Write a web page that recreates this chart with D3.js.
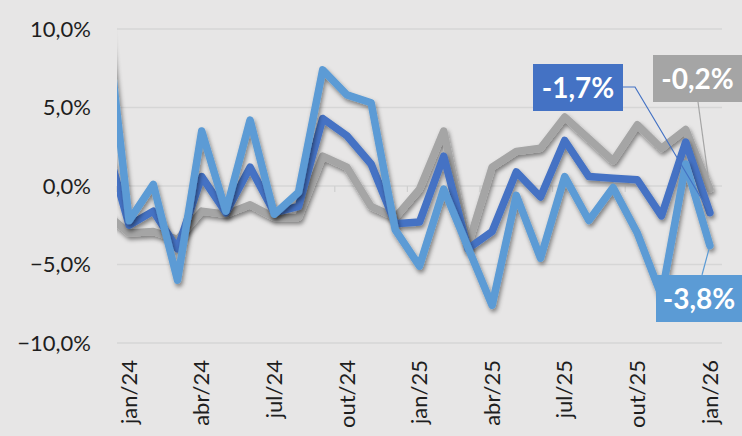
<!DOCTYPE html>
<html>
<head>
<meta charset="utf-8">
<script src="https://cdn.jsdelivr.net/npm/d3@7"></script>
<style>
  html, body { margin: 0; padding: 0; background: #e7e6e6; }
  svg { display: block; }
</style>
</head>
<body>
<svg id="chart"></svg>
<script>
// months (dez/23 is only partly visible at the clipped left edge)
var months = ["dez/23","jan/24","fev/24","mar/24","abr/24","mai/24","jun/24","jul/24","ago/24","set/24","out/24","nov/24","dez/24",
  "jan/25","fev/25","mar/25","abr/25","mai/25","jun/25","jul/25","ago/25","set/25","out/25","nov/25","dez/25","jan/26"];
var tickMonths = ["jan/24","abr/24","jul/24","out/24","jan/25","abr/25","jul/25","out/25","jan/26"];
var yTicks = [-10, -5, 0, 5, 10];

var serieCinza = [-1.7,-3.0,-2.9,-3.4,-1.6,-1.8,-1.2,-2.0,-2.0,1.9,1.2,-1.3,-2.0,-0.2,3.5,-3.8,1.2,2.2,2.4,4.4,3.0,1.6,3.9,2.4,3.6,-0.2];
var serieAzul = [3.0,-2.5,-1.6,-4.0,0.6,-1.7,1.2,-1.7,-1.3,4.3,3.2,1.4,-2.4,-2.3,1.9,-4.0,-2.9,0.9,-0.7,2.9,0.6,0.5,0.4,-1.9,2.8,-1.7];
var serieAzulClaro = [11.5,-2.2,0.1,-6.0,3.5,-1.6,4.2,-1.8,-0.4,7.4,5.8,5.3,-2.8,-5.1,-0.2,-3.9,-7.6,-0.6,-4.6,0.6,-2.2,-0.1,-3.0,-7.0,1.4,-3.8];

var series = [
  {name: "cinza", values: serieCinza, color: "#a5a5a5", label: "-0,2%"},
  {name: "azul", values: serieAzul, color: "#4472c4", label: "-1,7%"},
  {name: "azulClaro", values: serieAzulClaro, color: "#5b9bd5", label: "-3,8%"}
];

const width = 742;
const height = 436;
const plot = {left: 117, right: 722, top: 29, bottom: 343};

var svg = d3.select("#chart")
  .attr("width", width)
  .attr("height", height)
  .attr("viewBox", [0, 0, width, height])
  .style("font-family", "Lato, 'Open Sans', sans-serif");

svg.append("rect")
  .attr("width", width).attr("height", height)
  .attr("fill", "#e7e6e6");

var x = d3.scaleLinear()
  .domain([0.5, months.length - 0.5])
  .range([plot.left, plot.right]);
var y = d3.scaleLinear()
  .domain([-10, 10])
  .range([plot.bottom, plot.top]);

var defs = svg.append("defs");
defs.append("clipPath").attr("id", "clip")
  .append("rect")
  .attr("x", plot.left).attr("y", plot.top - 10)
  .attr("width", plot.right - plot.left).attr("height", plot.bottom - plot.top + 20);
var shadow = defs.append("filter").attr("id", "shadow")
  .attr("x", "-10%").attr("y", "-10%").attr("width", "130%").attr("height", "130%");
shadow.append("feDropShadow")
  .attr("dx", 1.5).attr("dy", 3)
  .attr("stdDeviation", 2.2)
  .attr("flood-color", "#000")
  .attr("flood-opacity", 0.45);

// gridlines
svg.append("g")
  .selectAll("line")
  .data(yTicks)
  .join("line")
  .attr("x1", plot.left).attr("x2", plot.right)
  .attr("y1", d => y(d)).attr("y2", d => y(d))
  .attr("stroke", "#d6d6d6")
  .attr("stroke-width", 1.3);

// y axis
var yAxis = d3.axisLeft(y)
  .tickValues(yTicks)
  .tickSize(0)
  .tickPadding(0)
  .tickFormat(d => d3.format(".1f")(d).replace(".", ",") + "%");
svg.append("g")
  .attr("transform", "translate(91,0)")
  .call(yAxis)
  .call(g => g.select(".domain").remove())
  .call(g => g.selectAll("text")
    .attr("fill", "#1e1e1e")
    .style("font-size", "22px")
    .style("font-family", "Lato, sans-serif"));

// small tick marks on the zero line
svg.append("g")
  .selectAll("line")
  .data(tickMonths)
  .join("line")
  .attr("x1", d => x(months.indexOf(d) - 0.5))
  .attr("x2", d => x(months.indexOf(d) - 0.5))
  .attr("y1", y(0)).attr("y2", y(0) + 6)
  .attr("stroke", "#cfcfcf")
  .attr("stroke-width", 1.2);

// x labels (rotated)
svg.append("g")
  .selectAll("text")
  .data(tickMonths)
  .join("text")
  .attr("transform", d => "translate(" + x(months.indexOf(d)) + ",360) rotate(-90)")
  .attr("text-anchor", "end")
  .attr("dy", "0.35em")
  .attr("fill", "#1e1e1e")
  .style("font-size", "22px")
  .text(d => d);

// lines
var line = d3.line()
  .x((d, i) => x(i))
  .y(d => y(d));

var lines = svg.append("g").attr("clip-path", "url(#clip)");
lines.selectAll("path")
  .data(series)
  .join("path")
  .attr("d", d => line(d.values))
  .attr("fill", "none")
  .attr("stroke", d => d.color)
  .attr("stroke-width", 7.5)
  .attr("stroke-linejoin", "round")
  .attr("stroke-linecap", "round")
  .attr("filter", "url(#shadow)");

// end labels with leader lines
var last = months.length - 1;
var boxes = [
  {s: series[1], x0: 533, y0: 64, w: 90, h: 47, leader: [[623, 87], [635, 87]]},
  {s: series[0], x0: 653, y0: 55, w: 89, h: 47, leader: [[698, 102]]},
  {s: series[2], x0: 656, y0: 275, w: 86, h: 47, leader: [[702, 275]]}
];

var labels = svg.append("g");
boxes.forEach(function(b) {
  var pts = b.leader.concat([[x(last), y(b.s.values[last])]]);
  labels.append("path")
    .attr("d", d3.line()(pts))
    .attr("fill", "none")
    .attr("stroke", b.s.color)
    .attr("stroke-width", 1.2);
  labels.append("rect")
    .attr("x", b.x0).attr("y", b.y0)
    .attr("width", b.w).attr("height", b.h)
    .attr("fill", b.s.color);
  labels.append("text")
    .attr("x", b.x0 + b.w / 2)
    .attr("y", b.y0 + b.h / 2)
    .attr("dy", "0.36em")
    .attr("text-anchor", "middle")
    .attr("fill", "#fff")
    .style("font-size", "28px")
    .style("font-weight", "bold")
    .text(b.s.label);
});
</script>
</body>
</html>
